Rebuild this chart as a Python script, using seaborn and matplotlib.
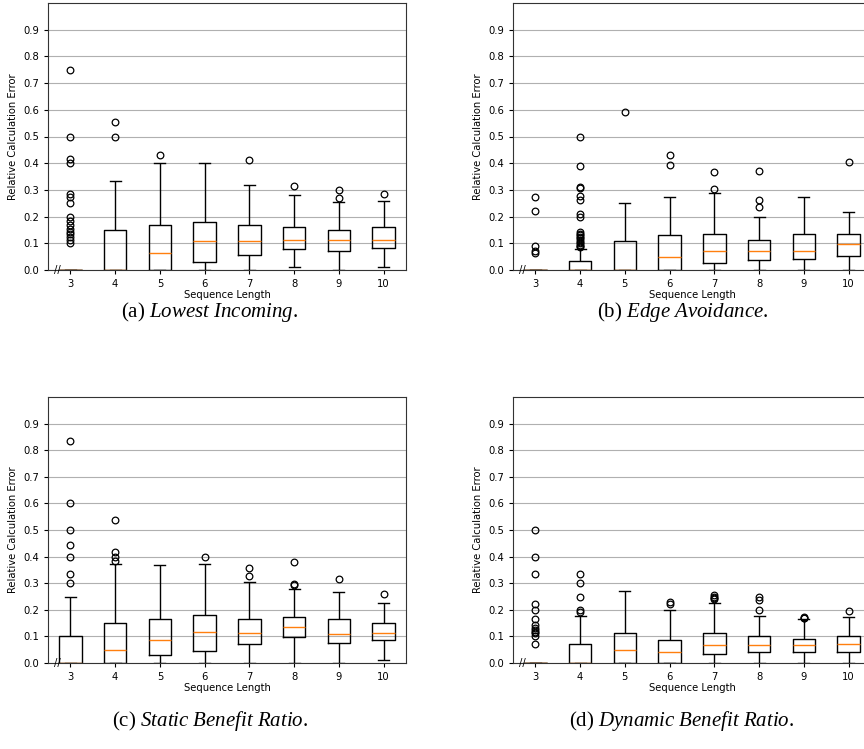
import numpy as np
import pandas as pd
import matplotlib
matplotlib.use("Agg")
import matplotlib.pyplot as plt
import seaborn as sns

plt.rcParams['font.family'] = ['DejaVu Sans']
plt.rcParams['mathtext.fontset'] = 'custom'
plt.rcParams['mathtext.rm'] = 'Liberation Serif'
plt.rcParams['mathtext.it'] = 'Liberation Serif:italic'

lengths = [3, 4, 5, 6, 7, 8, 9, 10]

# ---- (a) Lowest Incoming: box statistics ----
a_lo = [0, 0, 0, 0, 0, 0.01, 0, 0.0125]
a_q1 = [0, 0, 0, 0.03, 0.055, 0.078, 0.07, 0.082]
a_med = [0, 0, 0.0625, 0.107, 0.107, 0.111, 0.114, 0.113]
a_q3 = [0, 0.15, 0.167, 0.18, 0.167, 0.16, 0.148, 0.16]
a_hi = [0, 0.333, 0.4, 0.4, 0.318, 0.281, 0.255, 0.26]
a_fliers = [
    [0.75, 0.5, 0.417, 0.4, 0.286, 0.273, 0.25, 0.2, 0.182, 0.167, 0.154,
     0.143, 0.133, 0.125, 0.111, 0.1],
    [0.5, 0.556], [0.429], [], [0.412], [0.313], [0.27, 0.298], [0.284]]

# ---- (b) Edge Avoidance ----
b_lo = [0, 0, 0, 0, 0, 0, 0, 0]
b_q1 = [0, 0, 0, 0, 0.028, 0.036, 0.042, 0.054]
b_med = [0, 0, 0, 0.05, 0.071, 0.07, 0.073, 0.097]
b_q3 = [0, 0.033, 0.107, 0.13, 0.136, 0.114, 0.136, 0.136]
b_hi = [0, 0.08, 0.25, 0.275, 0.288, 0.2, 0.273, 0.216]
b_fliers = [
    [0.273, 0.222, 0.091, 0.071, 0.0625],
    [0.5, 0.389, 0.312, 0.308, 0.278, 0.263, 0.208, 0.2, 0.143, 0.136, 0.13,
     0.125, 0.118, 0.111, 0.105, 0.1, 0.095, 0.091, 0.087],
    [0.59], [0.393, 0.432], [0.302, 0.367], [0.235, 0.261, 0.371], [], [0.405]]

# ---- (c) Static Benefit Ratio ----
c_lo = [0, 0, 0, 0, 0, 0, 0, 0.012]
c_q1 = [0, 0, 0.03, 0.045, 0.07, 0.097, 0.077, 0.088]
c_med = [0, 0.048, 0.088, 0.117, 0.111, 0.136, 0.11, 0.114]
c_q3 = [0.1, 0.15, 0.166, 0.181, 0.166, 0.174, 0.166, 0.15]
c_hi = [0.249, 0.374, 0.368, 0.372, 0.304, 0.28, 0.268, 0.226]
c_fliers = [
    [0.3, 0.333, 0.4, 0.444, 0.5, 0.6, 0.833],
    [0.385, 0.4, 0.417, 0.538], [], [0.4], [0.326, 0.357],
    [0.295, 0.298, 0.381], [0.314], [0.258]]

# ---- (d) Dynamic Benefit Ratio ----
d_lo = [0, 0, 0, 0, 0, 0, 0, 0]
d_q1 = [0, 0, 0, 0, 0.033, 0.04, 0.04, 0.04]
d_med = [0, 0, 0.047, 0.04, 0.068, 0.068, 0.066, 0.071]
d_q3 = [0, 0.071, 0.111, 0.087, 0.113, 0.1, 0.091, 0.1]
d_hi = [0, 0.176, 0.27, 0.2, 0.225, 0.175, 0.165, 0.173]
d_fliers = [
    [0.5, 0.4, 0.333, 0.222, 0.2, 0.167, 0.143, 0.133, 0.125, 0.118, 0.111,
     0.1, 0.071],
    [0.19, 0.2, 0.25, 0.3, 0.333], [], [0.222, 0.23],
    [0.24, 0.245, 0.25, 0.255], [0.2, 0.235, 0.248], [0.168, 0.171, 0.174],
    [0.196]]

captions = [r"(a) $\mathit{Lowest\ Incoming}$.",
            r"(b) $\mathit{Edge\ Avoidance}$.",
            r"(c) $\mathit{Static\ Benefit\ Ratio}$.",
            r"(d) $\mathit{Dynamic\ Benefit\ Ratio}$."]


def to_frame(lo, q1, med, q3, hi, fl, rep=60):
    """Expand read box statistics into a sample whose quartiles,
    whisker ends and outliers reproduce them exactly."""
    rows = []
    for i, L in enumerate(lengths):
        vals = ([lo[i]] + [q1[i]] * rep + [med[i]] * rep + [q3[i]] * rep
                + [hi[i]] + list(fl[i]))
        rows += [(L, v) for v in vals]
    return pd.DataFrame(rows, columns=["Sequence Length", "err"])


panels = [
    to_frame(a_lo, a_q1, a_med, a_q3, a_hi, a_fliers),
    to_frame(b_lo, b_q1, b_med, b_q3, b_hi, b_fliers),
    to_frame(c_lo, c_q1, c_med, c_q3, c_hi, c_fliers),
    to_frame(d_lo, d_q1, d_med, d_q3, d_hi, d_fliers),
]

W, H = 864, 749
fig = plt.figure(figsize=(W / 100, H / 100), dpi=100)

# axes boxes in pixels: left, top, right, bottom
boxes = [(48, 3, 406, 270), (513, 3, 871, 270),
         (48, 397, 406, 663), (513, 397, 871, 663)]
cap_pos = [(210, 312), (683, 312), (210, 721), (682, 721)]

fs = 7.2
for df, (l, t, r, b), cap, (cx, cy) in zip(panels, boxes, captions, cap_pos):
    ax = fig.add_axes([l / W, 1 - b / H, (r - l) / W, (b - t) / H])
    sns.boxplot(data=df, x="Sequence Length", y="err", order=lengths, ax=ax,
                width=0.5, fill=False, color="black", linewidth=1.0,
                whis=1.5,
                medianprops=dict(color="#ff7f0e", linewidth=1.0),
                flierprops=dict(marker="o", markerfacecolor="none",
                                markeredgecolor="black", markersize=4.8,
                                markeredgewidth=0.9))
    ax.set_ylim(0, 1.0)
    ax.set_xlim(-0.5, 7.5)
    ax.set_yticks(np.arange(0, 0.95, 0.1))
    ax.set_yticklabels([f"{v:.1f}" for v in np.arange(0, 0.95, 0.1)])
    ax.yaxis.grid(True, color="#b0b0b0", linewidth=0.8)
    ax.set_axisbelow(True)
    ax.tick_params(labelsize=fs, length=3, width=0.8)
    ax.set_xlabel("Sequence Length", fontsize=fs, labelpad=1)
    ax.set_ylabel("Relative Calculation Error", fontsize=fs)
    for s in ax.spines.values():
        s.set_linewidth(0.8)
        s.set_color("#333333")
    ax.text(-0.3, 0.0, "//", ha="center", va="center", fontsize=fs,
            clip_on=False)
    fig.text(cx / W, 1 - cy / H, cap, ha="center", va="center", fontsize=15,
             family="Liberation Serif")

fig.savefig("out.png", dpi=100)
